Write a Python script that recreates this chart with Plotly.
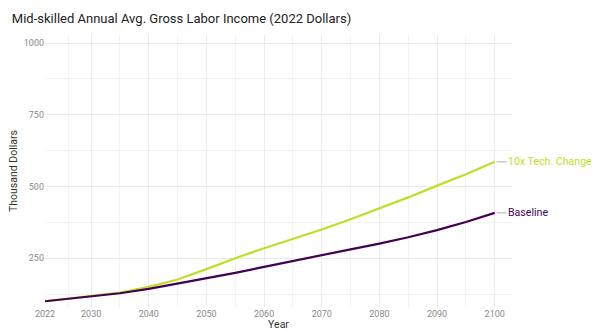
import plotly.graph_objects as go

years = [2022, 2025, 2030, 2035, 2040, 2045, 2050, 2055, 2060, 2065, 2070, 2075, 2080, 2085, 2090, 2095, 2100]
tech_change = [100, 107, 117, 130, 150, 176, 212, 250, 285, 317, 350, 386, 423, 462, 503, 543, 586]
baseline = [100, 106, 116, 128, 143, 161, 179, 199, 220, 241, 262, 281, 301, 323, 348, 376, 408]

series_names = ["10x Tech. Change", "Baseline"]
series_colors = ["#bddf26", "#440154"]
x_ticks = [2022, 2030, 2040, 2050, 2060, 2070, 2080, 2090, 2100]
x_minor = [2026, 2035, 2045, 2055, 2065, 2075, 2085, 2095]
y_ticks = [250, 500, 750, 1000]
y_minor = [125, 375, 625, 875]

font_family = "Roboto, Noto Sans, sans-serif"

fig = go.Figure()
for name, vals, col in zip(series_names, [tech_change, baseline], series_colors):
    fig.add_trace(go.Scatter(x=years, y=vals, mode="lines", name=name,
                             line=dict(color=col, width=2.2), showlegend=False,
                             hoverinfo="skip"))
    fig.add_annotation(x=years[-1], y=vals[-1], xref="x", yref="y", text=name,
                       showarrow=True, arrowhead=0, arrowwidth=1, arrowcolor="#b0b0b0",
                       ax=12, ay=0, xanchor="left", standoff=2, startstandoff=0,
                       borderpad=0,
                       font=dict(color=col, size=10.6, family=font_family))

grid_major = "#ebebeb"
grid_minor = "#f3f3f3"

fig.update_layout(
    width=592, height=331,
    margin=dict(l=45, r=80, t=35, b=24, autoexpand=False),
    paper_bgcolor="white", plot_bgcolor="white",
    font=dict(family=font_family, color="#333333"),
    title=dict(text="Mid-skilled Annual Avg. Gross Labor Income (2022 Dollars)",
               x=0.02, xanchor="left", y=0.945, yanchor="middle",
               font=dict(size=13, color="#222222", family=font_family)),
    xaxis=dict(range=[2022, 2103], tickmode="array", tickvals=x_ticks,
               ticktext=[str(t) for t in x_ticks], automargin=False,
               showgrid=True, gridcolor=grid_major, gridwidth=1,
               minor=dict(tickmode="array", tickvals=x_minor, showgrid=True,
                          gridcolor=grid_minor, gridwidth=0.8),
               zeroline=False, showline=False, ticks="",
               tickfont=dict(size=9, color="#8a8a8a"),
               title=dict(text="Year", font=dict(size=10.5, color="#333333"), standoff=2)),
    yaxis=dict(range=[80, 1028], tickmode="array", tickvals=y_ticks,
               ticktext=[str(t) for t in y_ticks], automargin=False,
               showgrid=True, gridcolor=grid_major, gridwidth=1,
               minor=dict(tickmode="array", tickvals=y_minor, showgrid=True,
                          gridcolor=grid_minor, gridwidth=0.8),
               zeroline=False, showline=False, ticks="",
               tickfont=dict(size=9, color="#8a8a8a"),
               title=dict(text="Thousand Dollars", font=dict(size=10.5, color="#333333"), standoff=4)),
)

fig.write_html("out.html", config={"displayModeBar": False},
               post_script="document.body.style.margin='0';")
